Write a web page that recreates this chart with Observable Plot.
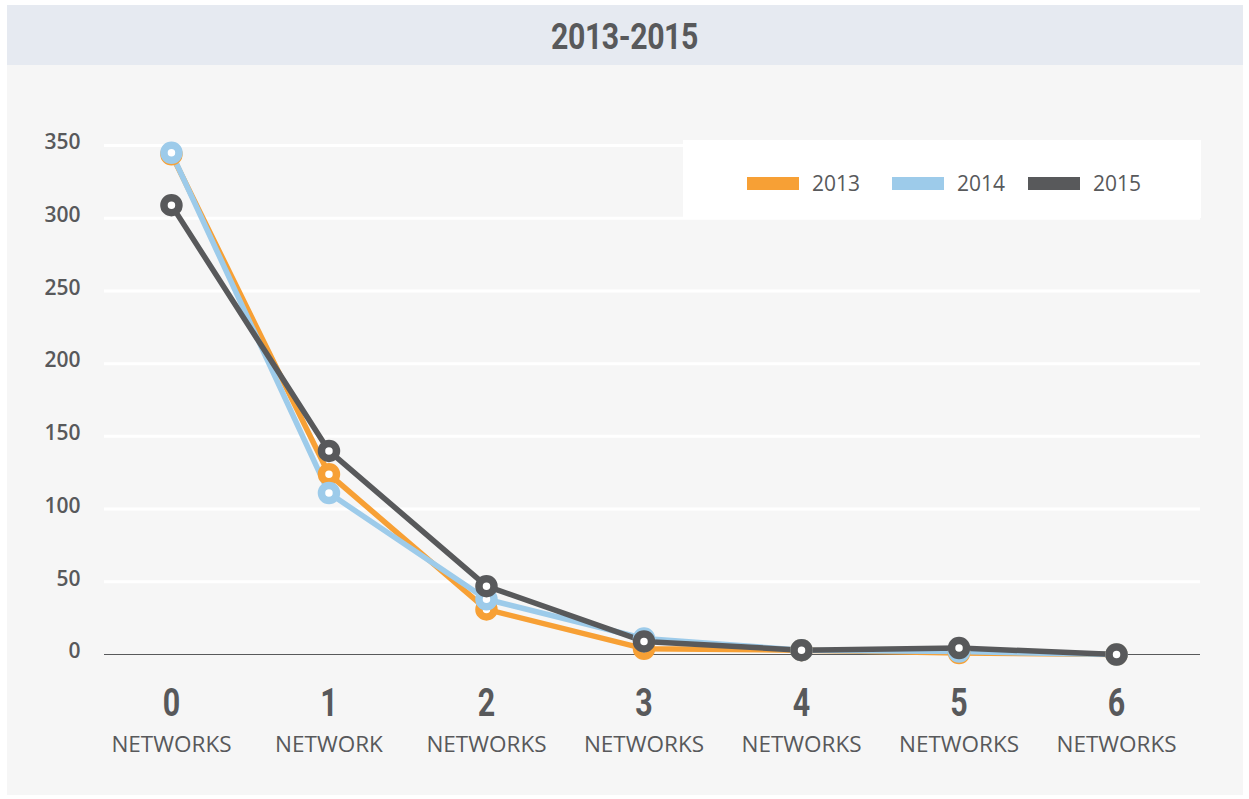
<!DOCTYPE html>
<html>
<head>
<meta charset="utf-8">
<script src="https://cdn.jsdelivr.net/npm/d3@7"></script>
<script src="https://cdn.jsdelivr.net/npm/@observablehq/plot@0.6"></script>
<style>
  body { margin: 0; background: #ffffff; width: 1249px; height: 799px; position: relative; overflow: hidden; font-family: "Open Sans", sans-serif; }
  #panel { position: absolute; left: 7px; top: 5px; width: 1236px; height: 790px; background: #f6f6f6; }
  #titleband { position: absolute; left: 7px; top: 5px; width: 1236px; height: 60px; background: #e6eaf1; }
  #title { position: absolute; left: 0; top: 6px; width: 1249px; height: 60px; line-height: 62px; text-align: center;
           font-family: "Roboto", sans-serif; font-weight: 700; font-size: 36px; color: #58595b;
           transform: scaleX(0.84); transform-origin: 624.5px 50%; letter-spacing: -0.5px; }
  #chart { position: absolute; left: 0; top: 65px; }
  #legend { position: absolute; left: 683px; top: 140px; width: 518px; height: 78px; background: #ffffff; }
  .item { position: absolute; top: 4px; height: 78px; display: flex; align-items: center; }
  .sw { width: 52px; height: 13px; margin-right: 13px; }
  .lab { font-family: "Open Sans", sans-serif; font-size: 21px; color: #58595b; }
</style>
</head>
<body>
<div id="panel"></div>
<div id="titleband"></div>
<div id="title">2013-2015</div>
<div id="chart"></div>
<div id="legend"></div>
<script>
const categories = [0, 1, 2, 3, 4, 5, 6];
const categoryLabels = ["NETWORKS", "NETWORK", "NETWORKS", "NETWORKS", "NETWORKS", "NETWORKS", "NETWORKS"];
const seriesNames = ["2013", "2014", "2015"];
const values2013 = [344, 124, 31, 4, 3, 1, 0];
const values2014 = [345, 111, 38, 11, 3, 2, 0];
const values2015 = [309, 140, 47, 9, 3, 4.5, 0];
const yTicks = [0, 50, 100, 150, 200, 250, 300, 350];
const colors = ["#f7a035", "#9dcbea", "#58595b"];

const seriesValues = [values2013, values2014, values2015];
const data = [];
seriesNames.forEach((s, i) => categories.forEach((c, j) => data.push({series: s, x: c, y: seriesValues[i][j]})));
const cats = categories.map((c, i) => ({x: c, label: categoryLabels[i]}));

const chart = Plot.plot({
  width: 1249,
  height: 734,
  marginLeft: 104,
  marginRight: 49,
  marginTop: 80,
  marginBottom: 145,
  style: {background: "transparent", color: "#58595b"},
  x: {type: "linear", domain: [-0.425, 6.533], axis: null},
  y: {domain: [0, 350], axis: null},
  color: {domain: seriesNames, range: colors},
  marks: [
    Plot.ruleY(yTicks.filter(d => d > 0), {stroke: "#ffffff", strokeWidth: 3}),
    Plot.ruleY([0], {stroke: "#58595b", strokeWidth: 1.2}),
    Plot.text(yTicks, {x: -0.425, y: d => d, text: d => String(d), textAnchor: "end", dx: -24, dy: -3,
      fontSize: 21, fontWeight: 600, fill: "#58595b", fontFamily: "Open Sans"}),
    Plot.text(cats, {x: "x", text: d => String(d.x), frameAnchor: "bottom", dy: 61,
      fontSize: 38, fontWeight: 700, fill: "#58595b", fontFamily: "Roboto", className: "bignum"}),
    Plot.text(cats, {x: "x", text: "label", frameAnchor: "bottom", dy: 97,
      fontSize: 22.5, fill: "#58595b", fontFamily: "Open Sans"}),
    Plot.line(data, {x: "x", y: "y", z: "series", stroke: "series", strokeWidth: 5.5}),
    Plot.dot(data, {x: "x", y: "y", stroke: "series", fill: "#ffffff", r: 7.5, strokeWidth: 7.5})
  ]
});
d3.select(chart).selectAll(".bignum text").each(function() {
  const t = d3.select(this);
  const x = +t.attr("x") || 0, y = +t.attr("y") || 0;
  const prev = t.attr("transform") || "";
  t.attr("x", null).attr("y", null).attr("transform", `${prev} translate(${x},${y}) scale(0.8,1)`);
});
document.getElementById("chart").appendChild(chart);

const legend = document.getElementById("legend");
const lefts = [64, 209, 345];
seriesNames.forEach((s, i) => {
  const it = document.createElement("div");
  it.className = "item";
  it.style.left = lefts[i] + "px";
  it.innerHTML = `<div class="sw" style="background:${colors[i]}"></div><span class="lab">${s}</span>`;
  legend.appendChild(it);
});
</script>
</body>
</html>
